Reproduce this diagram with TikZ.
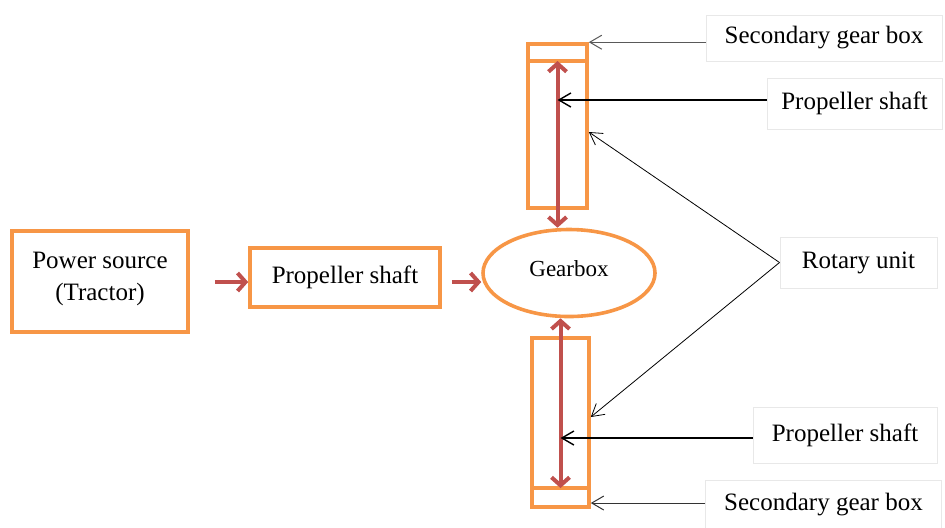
\documentclass[tikz,border=0pt]{standalone}
\usepackage{fontspec}
\setmainfont{Liberation Serif}
\usetikzlibrary{arrows.meta,positioning,shapes.geometric}
\definecolor{unitorange}{RGB}{247,150,70}
\definecolor{shaftred}{RGB}{192,80,77}
\definecolor{taggray}{RGB}{232,232,232}

\begin{document}
\begin{tikzpicture}[
  x=0.5pt, y=-0.5pt,
  font=\fontsize{12.5}{16}\selectfont,
  unit/.style={draw=unitorange, line width=1.8pt, align=center, inner sep=0pt},
  tag/.style={draw=taggray, line width=0.5pt, align=center, inner sep=0pt},
  drive/.style={-{Straight Barb[length=4pt,width=9pt]}, line width=2pt, shaftred},
  spin/.style={drive, {Straight Barb[length=4pt,width=9pt]}-{Straight Barb[length=4pt,width=9pt]}},
  pointer/.style={-{Straight Barb[length=6pt,width=7pt]}, line width=0.5pt}
]
\useasboundingbox (0,0) rectangle (945,527);

% main drive line
\node[unit, minimum width=88pt, minimum height=50.5pt] (power) at (100,281.5)
  {Power source\\(Tractor)\\[-11pt]\mbox{}};
\node[unit, minimum width=95pt, minimum height=29.5pt] (shaft) at (345,277.5) {Propeller shaft};
\node[unit, ellipse, minimum width=86pt, minimum height=43.5pt,
  font=\fontsize{11.5}{14}\selectfont] (gear) at (569,273) {Gearbox\\[-10pt]\mbox{}};

% rotary columns
\node[unit, minimum width=29.5pt, minimum height=82pt] (topcol) at (557.5,126) {};
\node[unit, minimum width=28.5pt, minimum height=84.5pt] (botcol) at (560.5,422.5) {};
\coordinate (topdiv) at (557.5,61);
\coordinate (botdiv) at (560.5,488);
\draw[unitorange, line width=1.8pt] (topcol.west |- topdiv) -- (topcol.east |- topdiv);
\draw[unitorange, line width=1.8pt] (botcol.west |- botdiv) -- (botcol.east |- botdiv);

% labels
\node[tag, minimum width=118pt, minimum height=23pt] (sgtop) at (824,38) {Secondary gear box};
\node[tag, minimum width=87.5pt, minimum height=25.5pt] (pstop) at (854.5,103.5) {Propeller shaft};
\node[tag, minimum width=78.5pt, minimum height=25.5pt] (rotary) at (858.5,262.5) {Rotary unit};
\node[tag, minimum width=92pt, minimum height=28pt] (psbot) at (845,435) {Propeller shaft};
\node[tag, minimum width=118pt, minimum height=25pt] (sgbot) at (823.5,505) {Secondary gear box};

% power flow
\draw[drive] ([xshift=12.5pt]power.east |- 0,282) -- (shaft.west |- 0,282);
\draw[drive] ([xshift=5pt]shaft.east |- 0,282) -- (gear.west |- 0,282);
\draw[spin] (topdiv) -- (topdiv |- gear.north);
\draw[spin] (botdiv) -- (botdiv |- gear.south);

% pointers
\draw[pointer, black!65] (sgtop.west |- topcol.north east) -- (topcol.north east);
\draw[pointer, line width=0.7pt] (pstop.west |- 0,100) -- (topdiv |- 0,100);
\draw[pointer, line width=0.4pt] (rotary.west) -- ([yshift=-3pt]topcol.east);
\draw[pointer, line width=0.4pt] (rotary.west) -- ([yshift=2.75pt]botcol.east);
\draw[pointer, line width=0.7pt] (psbot.west |- 0,438) -- (botdiv |- 0,438);
\draw[pointer, black!80] (sgbot.west |- 0,503) -- (botcol.east |- 0,503);
\end{tikzpicture}
\end{document}
